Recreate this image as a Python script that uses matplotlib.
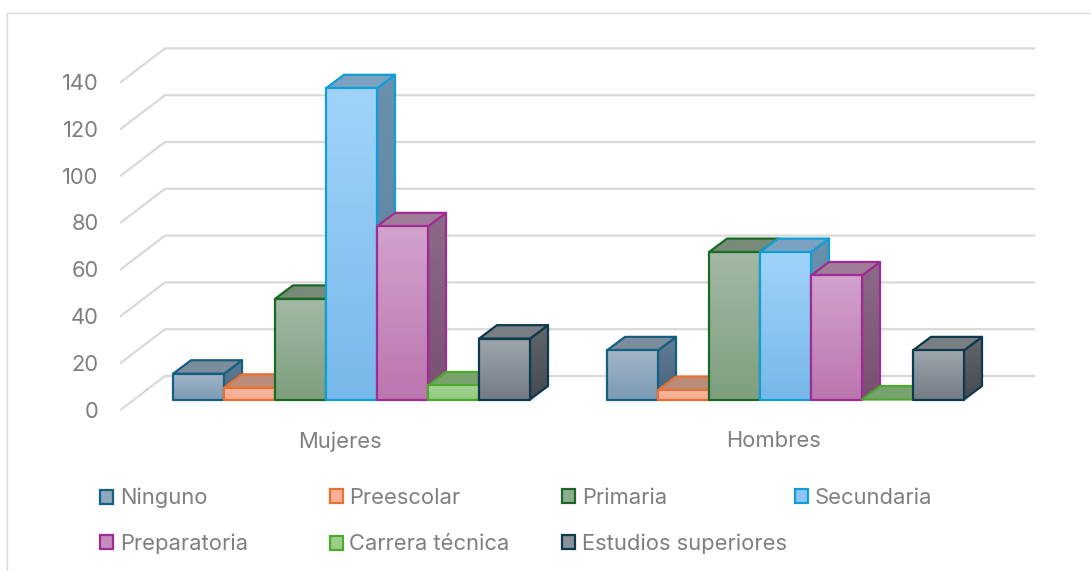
import numpy as np
import matplotlib
matplotlib.use("Agg")
import matplotlib.pyplot as plt
from matplotlib.patches import Polygon, Patch
from matplotlib.lines import Line2D
from matplotlib.colors import to_rgb
from matplotlib.transforms import ScaledTranslation

# ---------- data ----------
categories = ["Mujeres", "Hombres"]
ninguno = [11, 21]
preescolar = [5, 4]
primaria = [43, 63]
secundaria = [133, 63]
preparatoria = [74, 53]
carrera_tecnica = [6, 0]
estudios_superiores = [26, 21]
series_names = ["Ninguno", "Preescolar", "Primaria", "Secundaria",
                "Preparatoria", "Carrera técnica", "Estudios superiores"]
series_values = [ninguno, preescolar, primaria, secundaria,
                 preparatoria, carrera_tecnica, estudios_superiores]
y_ticks = [0, 20, 40, 60, 80, 100, 120, 140]

# ---------- styles ----------
edges = ["#156082", "#E97132", "#196B24", "#0F9ED5", "#A02B93", "#4EA72E", "#0D3A4E"]
front_top = ["#A2B4C5", "#F6B8A2", "#A3B8A5", "#A1D3F9", "#D2A2CD", "#A6D497", "#9DA5AD"]
front_bot = ["#7A9BB5", "#F3A98C", "#7E9F7E", "#77B8EA", "#BB76AF", "#8DC97A", "#737B85"]
top_col = ["#7C8D9D", "#BA8C7A", "#778A77", "#7BA3C1", "#9F7C99", "#79A36E", "#797F83"]
side_top = ["#607E96", "#A87A66", "#5F7A60", "#6A90AE", "#8B6B88", "#6A9560", "#62676B"]
side_bot = ["#48627A", "#96664F", "#4A664C", "#588099", "#7A4F72", "#558548", "#444A50"]

FW, FH = 1091, 571
PX_Y = 2.34      # pixels per value unit
PX_X = 434.0     # pixels per category step
X0, Y0 = 351.5, 399.5   # pixel position of first category centre / bar base
BAR_W = 51 / PX_X
DX, DY = 18 / PX_X, 13.5 / PX_Y
WALL = 23.5 / PX_Y       # back wall baseline above bar base (value units)
SIDE_X0 = (165 - X0) / PX_X
SIDE_X1 = (1034 - X0) / PX_X
SIDE_DX, SIDE_DY = 44 / PX_X, 33.5 / PX_Y

plt.rcParams["font.family"] = ["Inter", "DejaVu Sans"]
TXT = "#7F7F7F"
FS = 15.8

fig = plt.figure(figsize=(FW / 100, FH / 100), dpi=100, facecolor="white")
L, R, T, B = 116, 1040, 20, 425
ax = fig.add_axes([L / FW, 1 - B / FH, (R - L) / FW, (B - T) / FH])
ax.set_facecolor("none")
for s in ax.spines.values():
    s.set_visible(False)

# frame of chart area
for xs, ys in [((7, FW), (12.5, 12.5)), ((7, 7), (12.5, FH))]:
    fig.add_artist(Line2D([x / FW for x in xs], [1 - y / FH for y in ys],
                          color="#D9D9D9", lw=1.0))

GRID = "#D9D9D9"
for v in y_ticks:
    w = v + WALL
    ax.plot([SIDE_X0 - SIDE_DX, SIDE_X0, SIDE_X1], [w - SIDE_DY, w, w],
            color=GRID, lw=1.6, solid_joinstyle="miter", zorder=1)


def shade(verts, c_top, c_bot, z, edge):
    verts = np.array(verts)
    ymin, ymax = verts[:, 1].min(), verts[:, 1].max()
    if ymax == ymin:
        ymax = ymin + 1e-6
    g = np.linspace(to_rgb(c_top), to_rgb(c_bot), 64)[:, None, :]
    im = ax.imshow(g, extent=(verts[:, 0].min(), verts[:, 0].max(), ymin, ymax),
                   aspect="auto", origin="upper", zorder=z, interpolation="bilinear")
    poly = Polygon(verts, closed=True, fc="none", ec=edge, lw=1.6,
                   joinstyle="round", zorder=z + 0.1)
    ax.add_patch(poly)
    im.set_clip_path(poly)


z = 2
for i, (vals, name) in enumerate(zip(series_values, series_names)):
    for g, v in enumerate(vals):
        x0 = g + (i - 3.5) * BAR_W
        x1 = x0 + BAR_W
        shade([(x1, 0), (x1 + DX, DY), (x1 + DX, v + DY), (x1, v)],
              side_top[i], side_bot[i], z, edges[i])
        shade([(x0, v), (x1, v), (x1 + DX, v + DY), (x0 + DX, v + DY)],
              top_col[i], top_col[i], z + 1, edges[i])
        if v > 0:
            shade([(x0, 0), (x1, 0), (x1, v), (x0, v)],
                  front_top[i], front_bot[i], z + 2, edges[i])
    z += 3

ax.set_xlim((L - X0) / PX_X, (R - X0) / PX_X)
ax.set_ylim((Y0 - B) / PX_Y, (Y0 - T) / PX_Y)
ax.set_xticks(range(len(categories)), categories)
ax.set_yticks([v + WALL - SIDE_DY for v in y_ticks], [str(v) for v in y_ticks])
ax.tick_params(axis="both", length=0, labelcolor=TXT, labelsize=FS)
ax.tick_params(axis="y", pad=12.5)
ax.tick_params(axis="x", pad=4.5)
# category labels sit 12 px left of the bar-group centre
shift = ScaledTranslation(-12 / 100, 0, fig.dpi_scale_trans)
for lab in ax.get_xticklabels():
    lab.set_transform(lab.get_transform() + shift)

# legend: one block per column, anchored at the column positions
col_x = [100, 329.5, 562, 795]
cols = [[0, 4], [1, 5], [2, 6], [3]]
col_spacing = [1.14, 1.2, 1.14, 1.14]
for k, (px, members) in enumerate(zip(col_x, cols)):
    hs = [Patch(fc=(np.array(to_rgb(front_top[m])) + np.array(to_rgb(front_bot[m]))) / 2,
                ec=edges[m], lw=1.6, label=series_names[m]) for m in members]
    leg = ax.legend(handles=hs, loc="upper left",
                    bbox_to_anchor=(px / FW, 1 - 488 / FH), bbox_transform=fig.transFigure,
                    frameon=False, borderpad=0, borderaxespad=0, fontsize=FS,
                    handlelength=0.6, handleheight=0.6, handletextpad=0.3,
                    labelspacing=col_spacing[k], labelcolor=TXT)
    if k < len(col_x) - 1:
        ax.add_artist(leg)

fig.savefig("out.png", dpi=100)
